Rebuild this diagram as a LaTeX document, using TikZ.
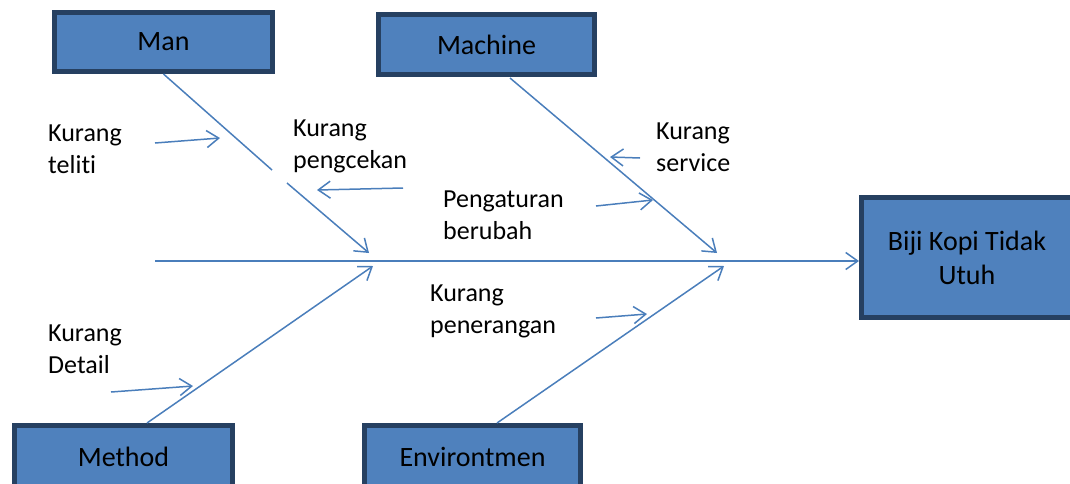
\documentclass[tikz,border=0pt]{standalone}
\usepackage{fontspec}
\setmainfont{Carlito}[Ligatures=NoCommon]
\usetikzlibrary{arrows.meta}
\definecolor{fbfill}{RGB}{79,129,189}
\definecolor{fbedge}{RGB}{38,64,97}
\definecolor{fbline}{RGB}{74,126,187}
\tikzset{
  causebox/.style={draw=fbedge,fill=fbfill,line width=5pt,inner sep=0pt,
    align=center,font=\fontsize{28}{34}\selectfont},
  bone/.style={draw=fbline,line width=1.5pt,
    -{Straight Barb[length=12pt,width=17pt,line width=1.5pt]}},
  note/.style={anchor=north west,inner sep=0pt,align=left,
    font=\fontsize{26}{32}\selectfont},
}

\begin{document}
\begin{tikzpicture}[x=1pt,y=-1pt]
    \useasboundingbox (0,0) rectangle (1070,483);
    % category boxes and effect
    \node[causebox,minimum width=218,minimum height=59] (man) at (163.5,42) {Man};
    \node[causebox,minimum width=216,minimum height=60] (machine) at (486.5,44.5) {Machine};
    \node[causebox,minimum width=218,minimum height=62] (method) at (123.5,456.5) {Method};
    \node[causebox,minimum width=216,minimum height=62] (envir) at (472.5,456.5) {Environtmen};
    \node[causebox,minimum width=211,minimum height=120] (effect) at (967,257.5) {Biji Kopi Tidak\\Utuh};
    % spine and bones
    \coordinate (spinetail) at (155,261);
    \coordinate (mangapA) at (272,170);
    \coordinate (mangapB) at (287,183);
    \coordinate (mantip) at (369,253);
    \coordinate (machinefoot) at (510,78);
    \coordinate (machinetip) at (717,253);
    \coordinate (methodfoot) at (147,423);
    \coordinate (methodtip) at (373,266);
    \coordinate (envirfoot) at (497,423);
    \coordinate (envirtip) at (724,266);
    \draw[bone] (spinetail) -- (spinetail -| effect.west);
    \draw[bone,-] (man.south) -- (mangapA);
    \draw[bone] (mangapB) -- (mantip);
    \draw[bone] (machinefoot) -- (machinetip);
    \draw[bone] (methodfoot) -- (methodtip);
    \draw[bone] (envirfoot) -- (envirtip);
    % causes
    \node[note] (teliti) at (48,125) {Kurang\\teliti};
    \node[note] (pengcekan) at (293,120) {Kurang\\pengcekan};
    \node[note] (service) at (656,123) {Kurang\\service};
    \node[note] (pengaturan) at (443,191) {Pengaturan\\berubah};
    \node[note] (penerangan) at (430,285) {Kurang\\penerangan};
    \node[note] (detail) at (48,325) {Kurang\\Detail};
    \coordinate (telitiA) at (155,143);   \coordinate (telitiB) at (220,138);
    \coordinate (pengcekanA) at (403,188);\coordinate (pengcekanB) at (317,190);
    \coordinate (serviceA) at (640,158);  \coordinate (serviceB) at (610,157);
    \coordinate (pengaturanA) at (596,206);\coordinate (pengaturanB) at (653,200);
    \coordinate (peneranganA) at (596,318);\coordinate (peneranganB) at (647,314);
    \coordinate (detailA) at (111,392);   \coordinate (detailB) at (193,386);
    \foreach \c in {teliti,pengcekan,service,pengaturan,penerangan,detail}
      \draw[bone] (\c A) -- (\c B);
\end{tikzpicture}
\end{document}
